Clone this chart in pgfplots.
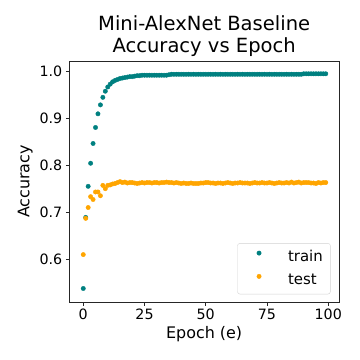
\documentclass[border=0pt]{standalone}
\usepackage{fontspec}
\setmainfont{DejaVu Sans}
\usepackage{pgfplots}
\pgfplotsset{compat=1.18}
\definecolor{trainc}{RGB}{0,128,128}
\definecolor{testc}{RGB}{255,165,0}
\definecolor{framec}{RGB}{38,38,38}

\pgfplotstableread{
e acc
0 0.538
1 0.689
2 0.755
3 0.804
4 0.846
5 0.880
6 0.909
7 0.928
8 0.944
9 0.957
10 0.966
11 0.972
12 0.977
13 0.980
14 0.982
15 0.984
16 0.985
17 0.986
18 0.987
19 0.988
20 0.988
21 0.989
22 0.990
23 0.990
24 0.991
25 0.991
26 0.991
27 0.991
28 0.991
29 0.991
30 0.991
31 0.991
32 0.991
33 0.991
34 0.991
35 0.992
36 0.993
37 0.993
38 0.993
39 0.993
40 0.993
41 0.993
42 0.993
43 0.993
44 0.993
45 0.993
46 0.993
47 0.993
48 0.993
49 0.993
50 0.993
51 0.993
52 0.993
53 0.993
54 0.993
55 0.993
56 0.993
57 0.993
58 0.993
59 0.993
60 0.993
61 0.993
62 0.993
63 0.993
64 0.993
65 0.993
66 0.993
67 0.993
68 0.993
69 0.993
70 0.993
71 0.993
72 0.993
73 0.993
74 0.993
75 0.993
76 0.993
77 0.993
78 0.993
79 0.993
80 0.993
81 0.993
82 0.993
83 0.993
84 0.993
85 0.993
86 0.993
87 0.993
88 0.993
89 0.993
90 0.994
91 0.994
92 0.994
93 0.994
94 0.994
95 0.994
96 0.994
97 0.994
98 0.994
99 0.994
}\traindata

\pgfplotstableread{
e acc
0 0.610
1 0.687
2 0.710
3 0.733
4 0.727
5 0.743
6 0.743
7 0.735
8 0.757
9 0.750
10 0.757
11 0.758
12 0.760
13 0.761
14 0.763
15 0.765
16 0.763
17 0.764
18 0.762
19 0.763
20 0.763
21 0.762
22 0.761
23 0.762
24 0.763
25 0.762
26 0.763
27 0.763
28 0.762
29 0.763
30 0.763
31 0.762
32 0.763
33 0.763
34 0.764
35 0.763
36 0.763
37 0.762
38 0.763
39 0.762
40 0.761
41 0.762
42 0.761
43 0.761
44 0.762
45 0.761
46 0.761
47 0.761
48 0.762
49 0.762
50 0.763
51 0.763
52 0.762
53 0.762
54 0.761
55 0.762
56 0.762
57 0.761
58 0.762
59 0.763
60 0.762
61 0.761
62 0.762
63 0.762
64 0.763
65 0.762
66 0.762
67 0.762
68 0.761
69 0.762
70 0.763
71 0.762
72 0.762
73 0.763
74 0.762
75 0.762
76 0.763
77 0.762
78 0.761
79 0.762
80 0.763
81 0.762
82 0.762
83 0.763
84 0.762
85 0.764
86 0.762
87 0.763
88 0.764
89 0.762
90 0.763
91 0.763
92 0.763
93 0.762
94 0.762
95 0.761
96 0.763
97 0.762
98 0.763
99 0.763
}\testdata

\begin{document}
\begin{tikzpicture}
\useasboundingbox (0,0) rectangle (360bp,360bp);
\begin{axis}[
    at={(69.3bp,58bp)}, anchor=south west,
    width=269.7bp, height=241bp, scale only axis,
    xmin=-5.7, xmax=104.4,
    ymin=0.5093, ymax=1.0212,
    xtick={0,25,50,75,100},
    ytick={0.6,0.7,0.8,0.9,1.0},
    yticklabel style={/pgf/number format/.cd, fixed, fixed zerofill, precision=1},
    /pgf/number format/assume math mode=true,
    tick label style={font=\fontsize{14.3}{16}\selectfont, text=black},
    tick align=outside, tick pos=left,
    major tick length=3.5bp,
    every tick/.style={framec, line width=0.8bp},
    axis line style={framec, line width=0.8bp},
    xlabel={Epoch (e)},
    ylabel={Accuracy},
    label style={font=\fontsize{16}{19}\selectfont},
    title={Mini-AlexNet Baseline\\Accuracy vs Epoch},
    title style={font=\fontsize{19.6}{21.6}\selectfont, align=center, inner sep=0pt, anchor=south, at={(0.5,1)}, yshift=-1.5bp},
    legend style={at={(0.969,0.032)}, anchor=south east, draw=gray!35, rounded corners=2.5bp,
        font=\fontsize{15}{18}\selectfont, inner xsep=7.6bp, inner ysep=6.7bp, row sep=9.3bp,
        nodes={inner sep=0pt, text height=11bp, text depth=3bp}},
    legend cell align=left,
    legend image code/.code={\path[draw=none, fill=none] (0bp,0bp) -- (43bp,0bp); \draw[#1] plot coordinates {(14bp,4bp)};},
]
\addplot[trainc, only marks, mark=*, mark size=2.2bp] table[x=e, y=acc] {\traindata};
\addlegendentry{train}
\addplot[testc, only marks, mark=*, mark size=2.2bp] table[x=e, y=acc] {\testdata};
\addlegendentry{test}
\end{axis}
\end{tikzpicture}
\end{document}
